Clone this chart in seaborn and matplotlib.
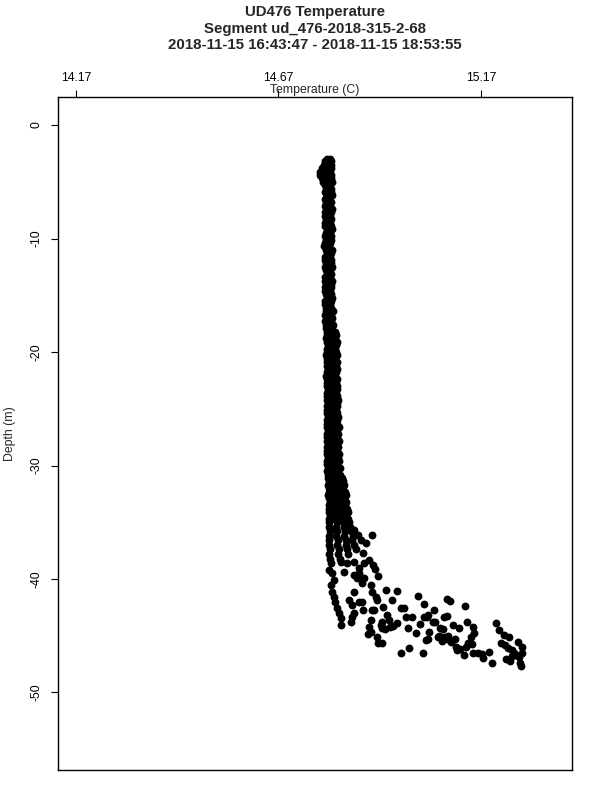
import numpy as np
import pandas as pd
import matplotlib
matplotlib.use("Agg")
import matplotlib.pyplot as plt
import seaborn as sns

# near-isothermal column: one depth per row, temperatures read across the band
col_depth = [
    -2.95, -3.2, -3.5, -3.8, -4.1, -4.4, -4.7, -5.0,
    -5.3, -5.6, -5.9, -6.2, -6.5, -6.8, -7.1, -7.4, -7.7, -8.0,
    -8.3, -8.6, -8.9, -9.2, -9.5, -9.8, -10.1, -10.4, -10.7, -11.0,
    -11.3, -11.6, -11.9, -12.2, -12.5, -12.8, -13.1, -13.4, -13.7, -14.0,
    -14.3, -14.6, -14.9, -15.2, -15.5, -15.8, -16.1, -16.4, -16.7, -17.0,
    -17.3, -17.6, -17.9,
    -18.2, -18.5, -18.8, -19.1, -19.4, -19.7, -20.0, -20.3, -20.6, -20.9,
    -21.2, -21.5, -21.8, -22.1, -22.4, -22.7, -23.0, -23.3, -23.6, -23.9,
    -24.2, -24.5, -24.8, -25.1, -25.4, -25.7, -26.0, -26.3, -26.6, -26.9,
    -27.2, -27.5, -27.8, -28.1, -28.4, -28.7, -29.0, -29.3, -29.6, -29.9,
    -30.2, -30.5, -30.8,
    -31.1, -31.4, -31.7, -32.0, -32.3, -32.6, -32.9, -33.2, -33.5, -33.8,
    -34.1, -34.4, -34.7, -35.0, -35.4, -35.8, -36.2, -36.6, -37.0, -37.4,
    -37.8, -38.2,
]
col_temp = [
    [14.790, 14.797], [14.786, 14.799], [14.782, 14.795, 14.801], [14.779, 14.792, 14.800],
    [14.774, 14.788, 14.798], [14.773, 14.785, 14.801], [14.778, 14.790, 14.799], [14.781, 14.794, 14.802],
    [14.784, 14.797], [14.788, 14.801], [14.785, 14.799], [14.789, 14.803], [14.786, 14.796],
    [14.787, 14.800], [14.784, 14.798], [14.789, 14.802], [14.786, 14.799], [14.785, 14.797],
    [14.788, 14.801], [14.786, 14.798], [14.784, 14.800], [14.789, 14.803], [14.787, 14.797],
    [14.785, 14.799], [14.788, 14.801], [14.786, 14.798], [14.783, 14.796], [14.787, 14.802],
    [14.789, 14.800], [14.785, 14.797], [14.786, 14.801], [14.788, 14.799], [14.784, 14.803],
    [14.787, 14.798], [14.789, 14.800], [14.786, 14.797], [14.785, 14.802], [14.788, 14.799],
    [14.786, 14.801], [14.784, 14.798], [14.787, 14.800], [14.789, 14.803], [14.786, 14.799],
    [14.785, 14.797], [14.788, 14.801], [14.787, 14.804], [14.785, 14.799], [14.789, 14.802],
    [14.786, 14.800], [14.788, 14.805], [14.787, 14.801],
    [14.789, 14.800, 14.810], [14.791, 14.803, 14.813], [14.788, 14.799, 14.811], [14.790, 14.802, 14.814],
    [14.792, 14.801, 14.812], [14.789, 14.804, 14.810], [14.790, 14.800, 14.813], [14.788, 14.802, 14.815],
    [14.791, 14.799, 14.811], [14.790, 14.803, 14.814], [14.789, 14.801, 14.812], [14.792, 14.804, 14.816],
    [14.790, 14.800, 14.813], [14.788, 14.802, 14.811], [14.791, 14.805, 14.815], [14.790, 14.801, 14.812],
    [14.789, 14.803, 14.814], [14.792, 14.800, 14.816], [14.790, 14.804, 14.813], [14.791, 14.802, 14.815],
    [14.789, 14.806, 14.817], [14.792, 14.801, 14.814], [14.790, 14.803, 14.816], [14.791, 14.805, 14.813],
    [14.789, 14.802, 14.815], [14.792, 14.804, 14.818], [14.790, 14.801, 14.814], [14.791, 14.806, 14.816],
    [14.789, 14.803, 14.819], [14.792, 14.805, 14.815], [14.790, 14.802, 14.817], [14.791, 14.804, 14.814],
    [14.789, 14.806, 14.820], [14.792, 14.803, 14.816], [14.790, 14.805, 14.818], [14.791, 14.802, 14.815],
    [14.789, 14.804, 14.819], [14.792, 14.807, 14.817], [14.790, 14.803, 14.820], [14.791, 14.805, 14.816],
    [14.792, 14.808, 14.821], [14.790, 14.804, 14.818], [14.793, 14.806, 14.822],
    [14.793, 14.805, 14.818, 14.826], [14.795, 14.809, 14.821, 14.830], [14.792, 14.807, 14.820, 14.833],
    [14.794, 14.810, 14.823, 14.828], [14.796, 14.806, 14.819, 14.834], [14.793, 14.811, 14.824, 14.836],
    [14.795, 14.808, 14.822, 14.831], [14.797, 14.812, 14.826, 14.838], [14.794, 14.809, 14.823, 14.835],
    [14.796, 14.813, 14.828, 14.840], [14.795, 14.810, 14.825, 14.842], [14.797, 14.814, 14.829, 14.837],
    [14.794, 14.811, 14.827, 14.843], [14.796, 14.815, 14.830, 14.845], [14.795, 14.812, 14.832, 14.848],
    [14.797, 14.816, 14.835, 14.850], [14.794, 14.813, 14.833, 14.855], [14.796, 14.818, 14.838, 14.852],
    [14.795, 14.815, 14.836, 14.858], [14.798, 14.819, 14.840, 14.862], [14.796, 14.817, 14.842],
    [14.797, 14.821],
]

# scattered points below the thermocline bend
tail_temp = [
    14.856, 14.866, 14.873, 14.900, 14.886, 14.878, 14.893, 14.903, 14.881, 14.868,
    14.840, 14.856, 14.824, 14.799, 14.831, 14.856, 14.865, 14.868, 14.881, 14.877,
    14.898, 14.902, 14.910, 14.914, 14.915, 14.908, 14.803, 14.807, 14.799, 14.803,
    14.807, 14.794, 14.857, 14.844, 14.869, 14.811, 14.816, 14.819, 14.824, 14.824,
    14.853, 14.877, 14.856, 14.853, 14.849, 14.902, 14.898, 14.893, 14.898, 14.927,
    14.927,
    14.937, 14.962, 14.929, 14.951, 14.972, 14.939, 14.943, 14.923, 14.914, 14.916,
    14.927, 14.964, 14.984, 15.001, 14.990, 15.009, 15.020, 15.030, 15.038, 15.053,
    15.054, 15.030, 15.015, 15.087, 15.079, 15.069, 15.063, 15.079, 15.034, 14.972,
    14.993, 15.026, 14.906, 14.891,
    15.093, 15.132, 15.086, 15.100, 15.116, 15.136, 15.151, 15.152, 15.145, 15.076,
    15.067, 15.074, 15.086, 15.090, 15.097, 15.105, 15.108, 15.119, 15.110, 15.133,
    15.129, 15.138, 15.147, 15.151, 15.162, 15.172, 15.176, 15.189, 15.198, 15.208,
    15.214, 15.228, 15.240, 15.219, 15.230, 15.236, 15.247, 15.252, 15.246, 15.233,
    15.243, 15.262, 15.271, 15.271, 15.265, 15.257, 15.266, 15.268,
    15.040, 15.043, 15.039, 15.057, 14.878, 14.945, 14.953, 14.934, 14.979,
]
tail_depth = [
    -35.68, -36.13, -36.57, -36.13, -36.83, -37.71, -38.33, -38.77, -38.59, -39.03,
    -38.59, -38.48, -38.48, -38.59, -39.36, -39.65, -39.91, -39.47, -39.91, -40.35,
    -40.53, -41.12, -41.56, -41.85, -39.74, -39.12, -39.47, -40.09, -40.53, -41.12,
    -41.56, -39.21, -41.12, -41.85, -42.00, -42.00, -42.56, -43.00, -43.44, -44.06,
    -42.29, -42.00, -43.00, -43.32, -43.76, -42.73, -43.61, -44.20, -44.65, -43.76,
    -44.32,
    -40.97, -41.03, -42.44, -41.85, -42.58, -43.17, -43.61, -44.06, -45.08, -45.67,
    -45.67, -43.90, -43.32, -43.32, -44.35, -44.79, -43.97, -43.32, -43.32, -43.76,
    -42.73, -42.20, -41.50, -41.79, -43.32, -44.35, -45.08, -45.08, -45.38, -46.50,
    -46.11, -46.55, -42.73, -44.85,
    -41.91, -42.38, -43.26, -44.06, -44.35, -43.76, -44.20, -44.79, -45.14, -44.43,
    -45.02, -45.44, -45.31, -45.02, -45.53, -45.31, -45.97, -46.20, -46.26, -45.97,
    -46.70, -45.67, -45.73, -46.50, -46.55, -46.61, -46.99, -46.41, -47.38, -43.85,
    -44.50, -44.94, -45.14, -45.67, -45.82, -46.11, -46.26, -46.55, -46.79, -47.08,
    -47.20, -45.53, -45.97, -46.50, -46.85, -46.70, -47.38, -47.67,
    -43.17, -44.65, -45.31, -43.76, -42.73, -44.24, -44.14, -44.43, -42.58,
]

x_ticks = [14.17, 14.67, 15.17]
y_ticks = [0, -10, -20, -30, -40, -50]
title_lines = [
    "UD476 Temperature",
    "Segment ud_476-2018-315-2-68",
    "2018-11-15 16:43:47 - 2018-11-15 18:53:55",
]


def main():
    rows = [(t, d) for d, ts in zip(col_depth, col_temp) for t in ts]
    rows += list(zip(tail_temp, tail_depth))
    df = pd.DataFrame(rows, columns=["temp", "depth"])

    sns.set_style("ticks")
    plt.rcParams["font.family"] = ["Liberation Sans", "DejaVu Sans"]
    plt.rcParams["axes.unicode_minus"] = False
    plt.rcParams["axes.edgecolor"] = "black"
    plt.rcParams["xtick.color"] = "black"
    plt.rcParams["ytick.color"] = "black"

    fig = plt.figure(figsize=(6, 8), dpi=100)
    ax = fig.add_axes([58 / 600, 0.0375, (572 - 58) / 600, 0.84125])

    sns.scatterplot(data=df, x="temp", y="depth", ax=ax, color="black",
                    s=32, linewidth=0, legend=False)

    ax.set_xlim(14.126, 15.395)
    ax.set_ylim(-56.83, 2.47)
    for side in ["top", "bottom", "left", "right"]:
        ax.spines[side].set_visible(True)
        ax.spines[side].set_linewidth(1.0)
        ax.spines[side].set_color("black")

    ax.xaxis.tick_top()
    ax.set_xticks(x_ticks)
    ax.set_xticklabels([f"{v:.2f}" for v in x_ticks], fontsize=8.8)
    ax.tick_params(axis="x", direction="out", length=5, width=0.8, pad=4.5)
    ax.set_yticks(y_ticks)
    ax.set_yticklabels([str(v) for v in y_ticks], fontsize=8.8,
                       rotation=90, va="center")
    ax.tick_params(axis="y", direction="out", length=5, width=0.8, pad=6)
    ax.set_xlabel("")
    ax.set_ylabel("")

    fig.text(315 / 600, 1 - 90 / 800, "Temperature (C)", ha="center",
             va="center", fontsize=8.8)
    fig.text(10 / 600, 1 - 433.5 / 800, "Depth (m)", ha="center",
             va="center", rotation=90, fontsize=8.8)
    for i, line in enumerate(title_lines):
        fig.text(315 / 600, 1 - (12 + 16.5 * i) / 800, line, ha="center",
                 va="center", fontsize=10.8, fontweight="bold")

    fig.savefig("out.png", dpi=100, facecolor="white")
    plt.close(fig)


if __name__ == "__main__":
    main()
